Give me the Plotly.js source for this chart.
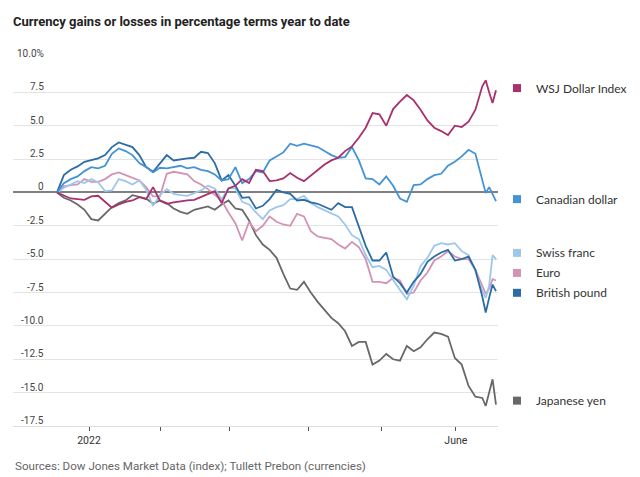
<!DOCTYPE html>
<html>
<head>
<meta charset="utf-8">
<script src="https://cdn.plot.ly/plotly-3.0.1.min.js"></script>
<style>
html,body{margin:0;padding:0;background:#fff;}
#chart{width:640px;height:477px;}
</style>
</head>
<body>
<div id="chart"></div>
<script>
// ---- Data (percent change year to date) ----
const dates = [
 '2021-12-31','2022-01-04','2022-01-06','2022-01-10','2022-01-12','2022-01-14','2022-01-18','2022-01-20','2022-01-24','2022-01-26','2022-01-28',
 '2022-02-01','2022-02-03','2022-02-07','2022-02-09','2022-02-11','2022-02-15','2022-02-17','2022-02-21','2022-02-23','2022-02-25',
 '2022-03-01','2022-03-03','2022-03-07','2022-03-09','2022-03-11','2022-03-15','2022-03-17','2022-03-21','2022-03-23','2022-03-25','2022-03-29','2022-03-31',
 '2022-04-04','2022-04-06','2022-04-08','2022-04-12','2022-04-14','2022-04-18','2022-04-20','2022-04-22','2022-04-26','2022-04-28',
 '2022-05-02','2022-05-04','2022-05-06','2022-05-10','2022-05-12','2022-05-16','2022-05-18','2022-05-20','2022-05-24','2022-05-26','2022-05-30',
 '2022-06-01','2022-06-03','2022-06-07','2022-06-09','2022-06-13','2022-06-15','2022-06-17','2022-06-21','2022-06-23','2022-06-24','2022-06-27','2022-06-28','2022-06-29'
];
const wsjDollarIndex = [0,-0.2,-0.45,-0.5,-0.55,-0.3,-0.25,-0.7,-1.15,-0.9,-0.7,-0.6,-0.35,-0.5,0.4,-0.6,-0.85,-0.75,-0.65,-0.6,-0.55,-0.35,-0.1,0.1,-0.8,0.3,0.5,1.0,0.7,1.7,1.6,0.85,0.9,1.05,1.45,1.1,0.85,1.25,1.7,2.1,2.4,2.6,3.1,3.45,4.1,4.85,5.95,5.85,5.0,6.25,6.8,7.3,6.9,6.2,5.4,4.85,4.6,4.3,5.0,4.9,5.3,6.2,7.95,8.4,7.5,6.7,7.65];
const canadianDollar = [0,0.7,1.0,1.2,1.6,1.9,1.8,2.0,2.9,3.3,3.1,2.8,2.2,1.9,1.5,1.85,1.8,1.9,2.0,1.8,1.9,1.7,1.6,1.35,0.9,1.0,1.9,0.7,1.0,1.6,1.5,2.4,2.7,3.0,3.65,3.5,3.65,3.55,3.4,3.1,2.8,2.6,2.65,3.4,2.4,1.05,1.0,0.6,1.2,0.5,-0.45,-0.7,0.55,0.6,1.0,1.3,1.4,2.0,2.3,2.7,3.2,2.9,0.8,-0.05,0.4,-0.1,-0.65];
const swissFranc = [0,0.35,0.6,0.85,0.7,1.0,0.75,0.1,0.15,1.0,0.85,0.6,0.9,0.2,-1.0,-0.2,0.25,-0.1,-0.2,-0.25,-0.05,0.15,0.5,0.3,-0.5,0.3,0.3,-0.7,-0.9,-1.5,-2.0,-1.35,-1.1,-0.95,-0.5,-0.5,-0.25,-0.8,-1.1,-1.35,-1.6,-1.8,-2.4,-3.2,-3.5,-4.7,-5.6,-5.5,-5.8,-6.6,-7.3,-8.0,-7.0,-5.5,-4.9,-4.0,-3.8,-3.9,-3.8,-4.4,-4.7,-5.9,-7.4,-7.9,-7.0,-4.7,-5.0];
const euro = [0,0.45,0.55,0.6,1.0,0.8,0.8,1.0,1.35,1.5,1.3,1.1,0.9,0.4,-0.3,-0.3,1.4,1.55,1.45,1.35,0.85,0.6,0.25,-0.15,-0.6,-1.5,-2.3,-3.6,-2.2,-2.9,-2.5,-1.8,-2.2,-2.4,-2.5,-1.6,-1.8,-2.9,-3.3,-3.4,-3.5,-3.9,-4.2,-3.7,-4.1,-5.0,-6.7,-6.7,-6.8,-6.4,-6.6,-7.6,-7.5,-6.6,-6.0,-5.1,-4.8,-4.4,-4.8,-5.0,-5.0,-5.8,-7.1,-7.6,-7.2,-6.5,-6.6];
const britishPound = [0,1.3,1.7,1.95,2.3,2.4,2.55,2.8,3.4,3.75,3.55,3.4,2.8,1.9,1.55,2.2,2.8,2.4,2.5,2.55,2.6,3.05,2.95,2.2,0.9,1.3,0.5,-0.4,-0.35,-1.2,-1.0,-0.5,0.2,0.0,-0.1,-0.6,-0.55,-0.75,-0.85,-1.05,-1.3,-0.8,-1.1,-1.1,-2.5,-4.0,-5.1,-5.1,-4.5,-6.3,-6.8,-7.5,-6.7,-6.1,-5.2,-4.8,-4.5,-4.3,-5.1,-5.0,-4.8,-5.8,-7.8,-9.0,-7.9,-6.9,-7.4];
const japaneseYen = [0,-0.4,-0.6,-0.9,-1.3,-2.0,-2.1,-1.6,-1.1,-0.8,-0.6,-0.2,-0.3,-0.45,-0.85,-0.6,-0.8,-1.2,-1.45,-1.6,-1.3,-1.15,-1.05,-1.3,-0.9,-0.6,-1.2,-1.3,-2.1,-3.2,-3.9,-4.3,-4.9,-6.1,-7.2,-7.3,-6.7,-7.5,-8.2,-8.8,-9.4,-9.8,-10.4,-11.5,-11.2,-11.2,-12.9,-12.6,-12.1,-12.5,-12.6,-11.5,-11.9,-11.6,-11.0,-10.5,-10.6,-10.8,-12.4,-12.9,-14.5,-15.3,-15.4,-16.0,-15.0,-14.0,-15.9];

const seriesNames = ['Japanese yen','Euro','Swiss franc','British pound','Canadian dollar','WSJ Dollar Index'];
const seriesValues = [japaneseYen, euro, swissFranc, britishPound, canadianDollar, wsjDollarIndex];

const yTickValues = [10, 7.5, 5, 2.5, 0, -2.5, -5, -7.5, -10, -12.5, -15, -17.5];
const yTickLabels = ['10.0%','7.5','5.0','2.5','0','-2.5','-5.0','-7.5','-10.0','-12.5','-15.0','-17.5'];
const xTickDates = ['2022-01-13 08:00','2022-02-11 07:00','2022-03-11 10:00','2022-04-13 05:00','2022-05-12 12:00','2022-06-13 07:00'];
const xTickLabels = ['2022','','','','','June'];

// ---- Styling ----
const colors = {
  'Japanese yen':'#686868',
  'Euro':'#d393b5',
  'Swiss franc':'#9dc8eb',
  'British pound':'#2b6ca6',
  'Canadian dollar':'#4393d6',
  'WSJ Dollar Index':'#a8306c'
};
// label placement (value-axis position of each end label)
const labelPos = {
  'WSJ Dollar Index':7.82,
  'Canadian dollar':-0.5,
  'Swiss franc':-4.53,
  'Euro':-6.03,
  'British pound':-7.52,
  'Japanese yen':-15.6
};
const narrow = 'Roboto, sans-serif';

const traces = seriesNames.map((n,i)=>({
  type:'scatter', mode:'lines', name:n, x:dates, y:seriesValues[i],
  line:{color:colors[n], width:1.8}, hoverinfo:'skip'
}));

const L = 13, R = 142, T = 59, B = 51;
const plotW = 640 - L - R;
const annotations = [];
const shapes = [];

yTickValues.forEach((v,i)=>{
  annotations.push({xref:'paper', yref:'y', x:(46-L)/plotW, y:v, xanchor:'right', yanchor:'bottom',
    yshift:-2, text:yTickLabels[i], showarrow:false, font:{family:narrow, size:10, color:'#444'}});
});

seriesNames.forEach(n=>{
  annotations.push({xref:'paper', yref:'y', x:(534-L)/plotW, y:labelPos[n], xanchor:'left', yanchor:'middle',
    text:n, showarrow:false, font:{family:'Lato, "Noto Sans", sans-serif', size:12, color:'#333'}});
  shapes.push({type:'rect', xref:'paper', yref:'y', x0:(513-L)/plotW, x1:(521-L)/plotW,
    ysizemode:'pixel', yanchor:labelPos[n], y0:-4, y1:4, fillcolor:colors[n], line:{width:0}});
});

annotations.push({xref:'paper', yref:'paper', x:0, y:-(466-426)/(477-T-B), xanchor:'left', yanchor:'middle',
  text:'Sources: Dow Jones Market Data (index); Tullett Prebon (currencies)', showarrow:false,
  font:{family:narrow, size:11.6, color:'#666'}});

const layout = {
  width:640, height:477,
  margin:{l:L, r:R, t:T, b:B, pad:0},
  paper_bgcolor:'#fff', plot_bgcolor:'#fff',
  showlegend:false,
  title:{text:'Currency gains or losses in percentage terms year to date', xref:'container', yref:'container',
    x:13/640, xanchor:'left', y:1-21/477, yanchor:'middle',
    font:{family:narrow, size:13, weight:700, color:'#222'}},
  xaxis:{type:'date', range:['2021-12-14 04:00','2022-06-29 14:00'],
    rangebreaks:[{bounds:['sat','mon']}],
    tickmode:'array', tickvals:xTickDates, ticktext:xTickLabels,
    ticks:'outside', ticklen:4, tickwidth:1, tickcolor:'#555',
    showgrid:false, zeroline:false, showline:true, linecolor:'#dcdcdc', linewidth:1,
    tickfont:{family:narrow, size:10.5, color:'#333'}, fixedrange:true},
  yaxis:{range:[-17.5,10], tickmode:'array', tickvals:yTickValues, showticklabels:false,
    showgrid:true, gridcolor:'#e4e4e4', gridwidth:1,
    zeroline:true, zerolinecolor:'#808080', zerolinewidth:2, showline:false, ticks:'', fixedrange:true},
  annotations:annotations,
  shapes:shapes
};

Plotly.newPlot('chart', traces, layout, {staticPlot:true, displayModeBar:false});
</script>
</body>
</html>
